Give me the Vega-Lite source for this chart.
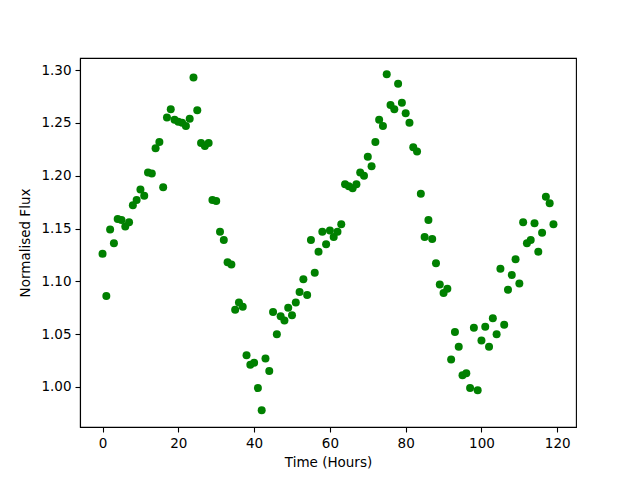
{
  "$schema": "https://vega.github.io/schema/vega-lite/v6.json",
  "width": 496,
  "height": 369,
  "autosize": {"type": "none"},
  "padding": {"left": 80, "top": 58, "right": 64, "bottom": 53},
  "background": "white",
  "config": {
    "font": "DejaVu Sans",
    "view": {"stroke": "black", "strokeWidth": 1.1},
    "axis": {
      "grid": false,
      "domainColor": "black",
      "domainWidth": 1.1,
      "tickColor": "black",
      "tickWidth": 1.1,
      "tickSize": 5,
      "labelPadding": 4,
      "labelFont": "DejaVu Sans",
      "labelFontSize": 13.5,
      "labelColor": "black",
      "titleFont": "DejaVu Sans",
      "titleFontSize": 13.5,
      "titleFontWeight": "normal",
      "titleColor": "black"
    }
  },
  "data": {
    "values": [
      {"hour": 0, "flux": 1.126}, {"hour": 1, "flux": 1.086}, {"hour": 2, "flux": 1.149}, {"hour": 3, "flux": 1.136},
      {"hour": 4, "flux": 1.159}, {"hour": 5, "flux": 1.158}, {"hour": 6, "flux": 1.152}, {"hour": 7, "flux": 1.156},
      {"hour": 8, "flux": 1.172}, {"hour": 9, "flux": 1.177}, {"hour": 10, "flux": 1.187}, {"hour": 11, "flux": 1.181},
      {"hour": 12, "flux": 1.203}, {"hour": 13, "flux": 1.202}, {"hour": 14, "flux": 1.226}, {"hour": 15, "flux": 1.232},
      {"hour": 16, "flux": 1.189}, {"hour": 17, "flux": 1.255}, {"hour": 18, "flux": 1.263}, {"hour": 19, "flux": 1.253},
      {"hour": 20, "flux": 1.251}, {"hour": 21, "flux": 1.250}, {"hour": 22, "flux": 1.247}, {"hour": 23, "flux": 1.254},
      {"hour": 24, "flux": 1.293}, {"hour": 25, "flux": 1.262}, {"hour": 26, "flux": 1.231}, {"hour": 27, "flux": 1.228},
      {"hour": 28, "flux": 1.231}, {"hour": 29, "flux": 1.177}, {"hour": 30, "flux": 1.176}, {"hour": 31, "flux": 1.147},
      {"hour": 32, "flux": 1.139}, {"hour": 33, "flux": 1.118}, {"hour": 34, "flux": 1.116}, {"hour": 35, "flux": 1.073},
      {"hour": 36, "flux": 1.080}, {"hour": 37, "flux": 1.076}, {"hour": 38, "flux": 1.030}, {"hour": 39, "flux": 1.021},
      {"hour": 40, "flux": 1.023}, {"hour": 41, "flux": 0.999}, {"hour": 42, "flux": 0.978}, {"hour": 43, "flux": 1.027},
      {"hour": 44, "flux": 1.015}, {"hour": 45, "flux": 1.071}, {"hour": 46, "flux": 1.050}, {"hour": 47, "flux": 1.067},
      {"hour": 48, "flux": 1.063}, {"hour": 49, "flux": 1.075}, {"hour": 50, "flux": 1.068}, {"hour": 51, "flux": 1.080},
      {"hour": 52, "flux": 1.090}, {"hour": 53, "flux": 1.102}, {"hour": 54, "flux": 1.087}, {"hour": 55, "flux": 1.139},
      {"hour": 56, "flux": 1.108}, {"hour": 57, "flux": 1.128}, {"hour": 58, "flux": 1.147}, {"hour": 59, "flux": 1.135},
      {"hour": 60, "flux": 1.148}, {"hour": 61, "flux": 1.142}, {"hour": 62, "flux": 1.147}, {"hour": 63, "flux": 1.154},
      {"hour": 64, "flux": 1.192}, {"hour": 65, "flux": 1.190}, {"hour": 66, "flux": 1.188}, {"hour": 67, "flux": 1.192},
      {"hour": 68, "flux": 1.203}, {"hour": 69, "flux": 1.200}, {"hour": 70, "flux": 1.218}, {"hour": 71, "flux": 1.209},
      {"hour": 72, "flux": 1.232}, {"hour": 73, "flux": 1.253}, {"hour": 74, "flux": 1.247}, {"hour": 75, "flux": 1.296},
      {"hour": 76, "flux": 1.267}, {"hour": 77, "flux": 1.263}, {"hour": 78, "flux": 1.287}, {"hour": 79, "flux": 1.269},
      {"hour": 80, "flux": 1.259}, {"hour": 81, "flux": 1.250}, {"hour": 82, "flux": 1.227}, {"hour": 83, "flux": 1.223},
      {"hour": 84, "flux": 1.183}, {"hour": 85, "flux": 1.142}, {"hour": 86, "flux": 1.158}, {"hour": 87, "flux": 1.140},
      {"hour": 88, "flux": 1.117}, {"hour": 89, "flux": 1.097}, {"hour": 90, "flux": 1.089}, {"hour": 91, "flux": 1.093},
      {"hour": 92, "flux": 1.026}, {"hour": 93, "flux": 1.052}, {"hour": 94, "flux": 1.038}, {"hour": 95, "flux": 1.011},
      {"hour": 96, "flux": 1.013}, {"hour": 97, "flux": 0.999}, {"hour": 98, "flux": 1.056}, {"hour": 99, "flux": 0.997},
      {"hour": 100, "flux": 1.044}, {"hour": 101, "flux": 1.057}, {"hour": 102, "flux": 1.038}, {"hour": 103, "flux": 1.065},
      {"hour": 104, "flux": 1.050}, {"hour": 105, "flux": 1.112}, {"hour": 106, "flux": 1.059}, {"hour": 107, "flux": 1.092},
      {"hour": 108, "flux": 1.106}, {"hour": 109, "flux": 1.121}, {"hour": 110, "flux": 1.098}, {"hour": 111, "flux": 1.156},
      {"hour": 112, "flux": 1.136}, {"hour": 113, "flux": 1.139}, {"hour": 114, "flux": 1.155}, {"hour": 115, "flux": 1.128},
      {"hour": 116, "flux": 1.146}, {"hour": 117, "flux": 1.180}, {"hour": 118, "flux": 1.174}, {"hour": 119, "flux": 1.154}
    ]
  },
  "mark": {"type": "circle", "color": "#008000", "opacity": 1, "size": 64},
  "encoding": {
    "x": {
      "field": "hour",
      "type": "quantitative",
      "title": "Time (Hours)",
      "scale": {"domain": [-5.95, 124.95], "nice": false, "zero": false},
      "axis": {"values": [0, 20, 40, 60, 80, 100, 120], "titlePadding": 6}
    },
    "y": {
      "field": "flux",
      "type": "quantitative",
      "title": "Normalised Flux",
      "scale": {"domain": [0.9621, 1.3114], "nice": false, "zero": false},
      "axis": {"values": [1.0, 1.05, 1.1, 1.15, 1.2, 1.25, 1.3], "format": ".2f", "titlePadding": 8}
    }
  }
}
